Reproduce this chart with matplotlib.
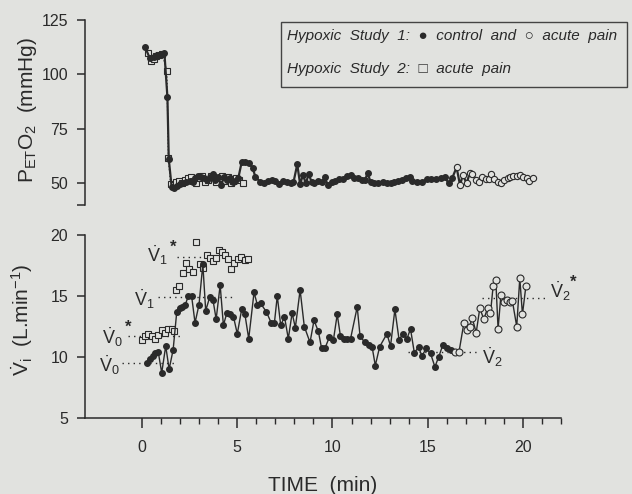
import matplotlib
matplotlib.use('Agg')
import matplotlib.pyplot as plt
from matplotlib.patches import Rectangle
from matplotlib.ticker import FixedLocator

plt.rcParams['font.family'] = ['Liberation Sans', 'DejaVu Sans']
plt.rcParams['mathtext.fontset'] = 'custom'
plt.rcParams['mathtext.rm'] = 'Liberation Sans'
plt.rcParams['mathtext.it'] = 'Liberation Sans:italic'
plt.rcParams['mathtext.bf'] = 'Liberation Sans:bold'

bg = '#e1e2df'
ink = '#2a2a2a'

# ---- top panel: end-tidal PO2 (mmHg) ----
pet_ctrl_t = [0.16, 0.4, 0.6, 0.8, 1.0, 1.17, 1.33, 1.4, 1.55, 1.7, 1.85, 2.0, 2.15, 2.3,
              2.5, 2.65, 2.8, 2.95, 3.1, 3.25, 3.4, 3.55, 3.7, 3.85, 4.0, 4.15, 4.3, 4.45,
              4.6, 4.75, 4.9, 5.05, 5.23, 5.4, 5.6, 5.8, 5.95, 6.2, 6.4, 6.6, 6.8, 7.0,
              7.2, 7.4, 7.6, 7.8, 7.95, 8.15, 8.3, 8.45, 8.6, 8.75, 8.9, 9.05, 9.25, 9.45,
              9.6, 9.75, 9.95, 10.15, 10.35, 10.55, 10.75, 10.95, 11.15, 11.35, 11.55,
              11.7, 11.85, 12.0, 12.2, 12.4, 12.65, 12.85, 13.05, 13.25, 13.45, 13.65,
              13.85, 14.05, 14.2, 14.45, 14.7, 14.95, 15.2, 15.45, 15.7, 15.9, 16.1, 16.3]
pet_ctrl_v = [112.4, 107.5, 108.0, 109.0, 109.5, 110.0, 89.4, 61.0, 48.2, 47.8, 48.5, 49.5,
              50.0, 50.5, 51.0, 50.5, 52.0, 53.0, 52.5, 52.0, 51.5, 52.5, 54.0, 51.5, 52.5,
              49.0, 52.5, 51.5, 52.0, 50.5, 51.0, 52.0, 59.5, 59.7, 59.3, 57.0, 52.8, 50.5,
              50.0, 51.0, 51.2, 50.8, 49.6, 51.0, 50.5, 50.0, 50.2, 58.5, 49.4, 53.6, 49.7,
              54.0, 50.5, 50.0, 51.0, 50.5, 52.5, 49.0, 50.5, 50.9, 51.6, 51.6, 53.1, 53.6,
              52.0, 52.0, 51.3, 51.3, 54.3, 50.5, 50.0, 49.7, 50.5, 50.0, 49.7, 50.5, 50.9,
              51.2, 52.4, 52.8, 51.0, 50.5, 50.5, 51.6, 51.6, 51.6, 52.0, 52.8, 49.7, 52.4]
pet_pain_t = [16.52, 16.7, 16.85, 17.05, 17.2, 17.35, 17.55, 17.7, 17.85, 18.05, 18.2, 18.35,
              18.5, 18.7, 18.85, 19.0, 19.2, 19.35, 19.5, 19.7, 19.85, 20.0, 20.2, 20.35, 20.55]
pet_pain_v = [57.1, 49.0, 53.6, 49.7, 54.3, 54.0, 51.3, 50.5, 52.8, 51.6, 51.6, 54.0, 51.6,
              50.5, 49.7, 51.3, 52.0, 52.8, 53.1, 53.1, 53.6, 52.8, 52.4, 50.9, 52.0]
pet_s2_t = [0.33, 0.45, 0.6, 0.75, 0.9, 1.05, 1.3, 1.38, 1.5, 1.65, 1.8, 1.95, 2.1, 2.25,
            2.4, 2.55, 2.7, 2.85, 3.0, 3.15, 3.3, 3.45, 3.6, 3.75, 3.9, 4.05, 4.2, 4.35,
            4.5, 4.65, 4.8, 4.95, 5.1, 5.3]
pet_s2_v = [110.0, 106.0, 107.0, 108.5, 109.0, 109.5, 101.6, 61.3, 49.3, 49.0, 50.5, 51.0,
            50.0, 51.5, 52.0, 52.5, 51.0, 50.0, 52.0, 53.0, 50.5, 51.5, 53.0, 52.5, 50.5,
            52.0, 53.0, 51.0, 52.5, 50.0, 51.0, 52.0, 51.5, 50.0]

# ---- bottom panel: inspired ventilation (L/min) ----
vi_ctrl_t = [0.25, 0.4, 0.55, 0.7, 0.85, 1.03, 1.24, 1.42, 1.63, 1.82, 1.97, 2.12, 2.27,
             2.43, 2.6, 2.78, 2.99, 3.19, 3.34, 3.55, 3.72, 3.89, 4.1, 4.27, 4.45, 4.62,
             4.8, 5.0, 5.23, 5.4, 5.6, 5.88, 6.05, 6.22, 6.53, 6.78, 6.95, 7.1, 7.28, 7.48,
             7.68, 7.88, 8.05, 8.3, 8.52, 8.82, 9.03, 9.26, 9.43, 9.6, 9.83, 10.05, 10.25,
             10.42, 10.6, 10.78, 10.95, 11.3, 11.45, 11.7, 11.9, 12.08, 12.25, 12.48, 12.86,
             13.05, 13.28, 13.5, 13.7, 13.9, 14.1, 14.3, 14.52, 14.7, 14.93, 15.15, 15.38,
             15.58, 15.8, 16.0, 16.22]
vi_ctrl_v = [9.55, 9.8, 10.1, 10.3, 10.4, 8.7, 10.9, 9.0, 10.6, 13.7, 14.0, 14.1, 14.3, 15.0,
             15.0, 12.8, 14.3, 17.6, 13.8, 14.9, 14.7, 13.1, 15.9, 12.6, 13.6, 13.5, 13.3,
             11.9, 13.9, 13.5, 11.5, 15.3, 14.3, 14.4, 13.7, 12.8, 12.8, 15.0, 12.6, 13.3,
             11.5, 13.6, 12.4, 15.5, 12.5, 11.2, 13.0, 12.1, 10.7, 10.7, 11.6, 11.4, 13.5,
             11.7, 11.5, 11.45, 11.5, 14.1, 11.7, 11.2, 11.0, 10.85, 9.3, 10.85, 11.9, 10.9,
             13.9, 11.4, 11.9, 11.45, 12.3, 10.35, 10.8, 10.1, 10.7, 10.3, 9.2, 10.0, 11.0,
             10.7, 10.6]
vi_pain_t = [16.45, 16.65, 16.9, 17.07, 17.2, 17.34, 17.55, 17.74, 17.95, 18.15, 18.3, 18.44,
             18.58, 18.7, 18.85, 19.0, 19.15, 19.3, 19.45, 19.68, 19.84, 19.98, 20.16]
vi_pain_v = [10.45, 10.45, 12.75, 12.2, 12.5, 13.2, 12.0, 14.0, 13.1, 14.0, 13.6, 15.8, 16.3,
             12.3, 15.1, 14.5, 14.7, 14.5, 14.6, 12.5, 16.45, 13.5, 15.8]
vi_s2_t = [0.0, 0.15, 0.33, 0.5, 0.67, 0.85, 1.03, 1.2, 1.38, 1.55, 1.7, 1.8, 1.95, 2.13,
           2.3, 2.45, 2.65, 2.85, 3.02, 3.2, 3.4, 3.55, 3.7, 3.87, 4.05, 4.2, 4.35, 4.52,
           4.68, 4.85, 5.02, 5.2, 5.38, 5.55]
vi_s2_v = [11.4, 11.7, 11.9, 11.7, 11.5, 11.8, 12.2, 12.0, 12.3, 12.3, 12.1, 15.5, 15.8,
           16.85, 17.7, 17.2, 17.0, 19.45, 17.6, 17.3, 18.35, 18.1, 17.9, 18.1, 18.8, 18.6,
           18.4, 18.0, 17.25, 17.7, 18.0, 18.2, 17.95, 18.0]

# reference levels (dotted): V0, V0*, V1, V1*, V2, V2*
ref_levels = [9.53, 11.75, 14.9, 18.2, 10.43, 14.8]
ref_from = [-1.07, -0.73, 0.84, 1.84, 13.98, 17.83]
ref_to = [1.73, 2.15, 4.72, 4.0, 17.57, 21.3]

fig = plt.figure(figsize=(6.32, 4.94), dpi=100, facecolor=bg)
ax1 = fig.add_axes([0.1345, 0.586, 0.753, 0.3735])
ax2 = fig.add_axes([0.1345, 0.1538, 0.753, 0.3705])

for ax in (ax1, ax2):
    ax.set_facecolor(bg)
    ax.patch.set_alpha(0)
    for s in ('top', 'right'):
        ax.spines[s].set_visible(False)
    for s in ('left', 'bottom'):
        ax.spines[s].set_color(ink)
        ax.spines[s].set_linewidth(1.1)
    ax.tick_params(direction='out', length=6, width=1.1, pad=6, labelsize=11.5,
                   colors=ink, labelcolor=ink)
    ax.set_xlim(-3, 22)

# top panel
ax1.spines['bottom'].set_visible(False)
ax1.tick_params(axis='x', bottom=False, labelbottom=False)
ax1.set_ylim(40, 125)
ax1.set_yticks([40, 50, 75, 100, 125])
ax1.set_yticklabels(['', '50', '75', '100', '125'])

ax1.plot(pet_s2_t, pet_s2_v, linestyle=':', color=ink, lw=0.9, marker='s', ms=4.5,
         mfc=bg, mec=ink, mew=0.8, zorder=2)
ax1.plot(pet_ctrl_t + pet_pain_t, pet_ctrl_v + pet_pain_v, '-', color=ink, lw=1.6, zorder=3)
ax1.plot(pet_ctrl_t, pet_ctrl_v, 'o', ms=4, color=ink, zorder=4)
ax1.plot(pet_pain_t, pet_pain_v, 'o', ms=4.5, mfc=bg, mec=ink, mew=0.8, zorder=4)

# bottom panel
ax2.set_ylim(5, 20)
ax2.set_yticks([5, 10, 15, 20])
ax2.set_xticks([0, 5, 10, 15, 20])
ax2.xaxis.set_minor_locator(FixedLocator(range(0, 23)))
ax2.tick_params(axis='x', which='major', length=7, pad=9)
ax2.tick_params(axis='x', which='minor', direction='out', length=4, width=1.0, colors=ink)

for y, x0, x1 in zip(ref_levels, ref_from, ref_to):
    ax2.hlines(y, x0, x1, colors=ink, linestyles=(0, (1, 3)), lw=1.0, zorder=1)

ax2.plot(vi_s2_t, vi_s2_v, 's', ms=5, mfc=bg, mec=ink, mew=0.8, zorder=2)
ax2.plot(vi_ctrl_t + vi_pain_t, vi_ctrl_v + vi_pain_v, '-', color=ink, lw=1.0, zorder=3)
ax2.plot(vi_ctrl_t, vi_ctrl_v, 'o', ms=4, color=ink, zorder=4)
ax2.plot(vi_pain_t, vi_pain_v, 'o', ms=5, mfc=bg, mec=ink, mew=0.8, zorder=4)

lab = dict(fontsize=13, color=ink, va='center')
star = dict(ha='center', fontsize=12, fontweight='bold', color=ink, va='center')
ax2.text(-1.15, 9.3, r'$\dot{\mathrm{V}}_{0}$', ha='right', **lab)
ax2.text(-1.0, 11.65, r'$\dot{\mathrm{V}}_{0}$', ha='right', **lab)
ax2.text(-0.75, 12.45, '*', **star)
ax2.text(0.68, 14.75, r'$\dot{\mathrm{V}}_{1}$', ha='right', **lab)
ax2.text(1.35, 18.3, r'$\dot{\mathrm{V}}_{1}$', ha='right', **lab)
ax2.text(1.65, 19.0, '*', **star)
ax2.text(17.85, 10.0, r'$\dot{\mathrm{V}}_{2}$', ha='left', **lab)
ax2.text(21.45, 15.4, r'$\dot{\mathrm{V}}_{2}$', ha='left', **lab)
ax2.text(22.65, 16.1, '*', **star)

# axis labels
fig.text(322.5 / 632, 1 - 485 / 494, 'TIME  (min)', ha='center', va='center',
         fontsize=15, color=ink)
fig.text(28 / 632, 1 - 110 / 494, r'P$_{\mathrm{ET}}$O$_{2}$  (mmHg)', rotation=90,
         ha='center', va='center', fontsize=15, color=ink)
fig.text(22 / 632, 1 - 320 / 494, r'$\dot{\mathrm{V}}_{\mathrm{i}}$  (L.min$^{-1}$)',
         rotation=90, ha='center', va='center', fontsize=15, color=ink)

# legend box
fig.patches.append(Rectangle((281 / 632, 1 - 87 / 494), 346 / 632, 65 / 494,
                             transform=fig.transFigure, fill=False, ec='#444444', lw=1.0))
leg = dict(fontsize=11, style='italic', color=ink, va='center', ha='left')
fig.text(287 / 632, 1 - 36 / 494, 'Hypoxic  Study  1:  \u25cf  control  and  \u25cb  acute  pain', **leg)
fig.text(287 / 632, 1 - 69 / 494, 'Hypoxic  Study  2:  \u25a1  acute  pain', **leg)

fig.savefig('out.png', dpi=100, facecolor=bg)
